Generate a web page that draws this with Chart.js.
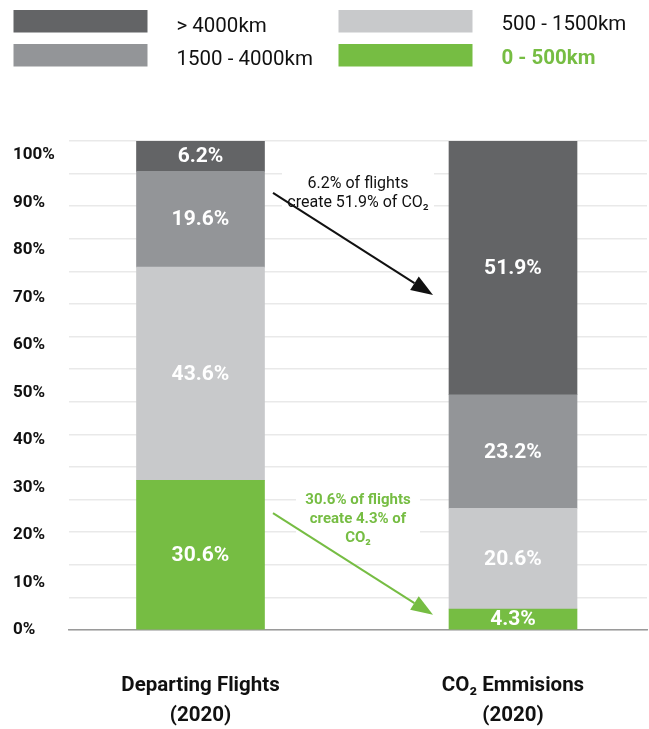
<!DOCTYPE html>
<html>
<head>
<meta charset="utf-8">
<script src="https://cdn.jsdelivr.net/npm/chart.js@4"></script>
<style>
  html, body { margin: 0; padding: 0; background: #fff; }
  #wrap { width: 649px; height: 729px; }
</style>
</head>
<body>
<div id="wrap"><canvas id="c" width="649" height="729"></canvas></div>
<script>
// ---- data ----
const categories = [['Departing Flights', '(2020)'], ['CO\u2082 Emmisions', '(2020)']];
const seriesLabels = ['0 - 500km', '500 - 1500km', '1500 - 4000km', '> 4000km'];
const share0to500 = [30.6, 4.3];
const share500to1500 = [43.6, 20.6];
const share1500to4000 = [19.6, 23.2];
const shareOver4000 = [6.2, 51.9];
const yTickStep = 10;

// annotations (in data coordinates)
const noteTexts = [
  ['6.2% of flights', 'create 51.9% of CO\u2082'],
  ['30.6% of flights', 'create 4.3% of', 'CO\u2082']
];

// ---- styles ----
const colors = ['#76BD43', '#C8C9CB', '#939598', '#636466'];
const FONT = 'Roboto, "Liberation Sans", sans-serif';
const LABEL_AXIS_MAX = 102.95;
const X_MIN = -0.4208, X_MAX = 1.4288;

const annotations = [
  { text: noteTexts[0], color: '#111', font: '16px', textX: 0.504, textY: 89.3,
    box: [152, 44], from: [0.232, 89.4], to: [0.744, 68.5] },
  { text: noteTexts[1], color: '#76BD43', font: 'bold 15px', textX: 0.504, textY: 22.7,
    box: [124, 57], from: [0.232, 23.9], to: [0.744, 3.1] }
];

const seriesValues = [share0to500, share500to1500, share1500to4000, shareOver4000];
const datasets = seriesValues.map((vals, k) => ({
  label: seriesLabels[k],
  data: vals.map((v, i) => ({ x: i, y: v })),
  backgroundColor: colors[k],
  borderWidth: 0,
  barThickness: 128,
  yAxisID: 'y'
}));

const legendOrder = [[3, 1], [2, 0]]; // rows x cols of dataset indexes

const decor = {
  id: 'decor',
  beforeDatasetsDraw(chart) {
    const ctx = chart.ctx;
    ctx.save();
    ctx.fillStyle = '#fff';
    const xs = chart.scales.x, ys = chart.scales.y;
    annotations.forEach(a => {
      const cx = xs.getPixelForValue(a.textX);
      const cy = ys.getPixelForValue(a.textY);
      ctx.fillRect(cx - a.box[0] / 2, cy - a.box[1] / 2, a.box[0], a.box[1]);
    });
    ctx.restore();
  },
  afterDatasetsDraw(chart) {
    const ctx = chart.ctx;
    const xs = chart.scales.x, ys = chart.scales.y;
    ctx.save();
    ctx.fillStyle = '#fff';
    ctx.font = 'bold 21px ' + FONT;
    ctx.textAlign = 'center';
    ctx.textBaseline = 'middle';
    chart.data.datasets.forEach((ds, di) => {
      const meta = chart.getDatasetMeta(di);
      meta.data.forEach((bar, i) => {
        const v = ds.data[i].y;
        ctx.fillText(v.toFixed(1) + '%', bar.x, (bar.y + bar.base) / 2 + 1);
      });
    });
    annotations.forEach(a => {
      const x1 = xs.getPixelForValue(a.from[0]), y1 = ys.getPixelForValue(a.from[1]);
      const x2 = xs.getPixelForValue(a.to[0]), y2 = ys.getPixelForValue(a.to[1]);
      const ang = Math.atan2(y2 - y1, x2 - x1);
      const L = 22, W = 8;
      const bx = x2 - L * Math.cos(ang), by = y2 - L * Math.sin(ang);
      ctx.strokeStyle = a.color;
      ctx.fillStyle = a.color;
      ctx.lineWidth = 2;
      ctx.beginPath();
      ctx.moveTo(x1, y1);
      ctx.lineTo(bx, by);
      ctx.stroke();
      ctx.beginPath();
      ctx.moveTo(x2, y2);
      ctx.lineTo(bx + W * Math.sin(ang), by - W * Math.cos(ang));
      ctx.lineTo(bx - W * Math.sin(ang), by + W * Math.cos(ang));
      ctx.closePath();
      ctx.fill();
      const cx = xs.getPixelForValue(a.textX), cy = ys.getPixelForValue(a.textY);
      ctx.font = a.font + ' ' + FONT;
      ctx.textAlign = 'center';
      ctx.textBaseline = 'middle';
      const lh = 19;
      const top = cy - (a.text.length - 1) * lh / 2;
      a.text.forEach((t, i) => ctx.fillText(t, cx, top + i * lh));
    });
    ctx.restore();
  },
  afterDraw(chart) {
    const ctx = chart.ctx;
    ctx.save();
    const colX = [13.5, 338.5], rowY = [10, 44];
    const baseY = [[32, 29.5], [65, 63.5]];
    const boxW = 134, boxH = 22.5, textGap = 163;
    legendOrder.forEach((row, r) => {
      row.forEach((di, c) => {
        const ds = chart.data.datasets[di];
        ctx.fillStyle = ds.backgroundColor;
        ctx.fillRect(colX[c], rowY[r], boxW, boxH);
        const isGreen = di === 0;
        ctx.fillStyle = isGreen ? ds.backgroundColor : '#111';
        ctx.font = (isGreen ? 'bold ' : '') + '20.5px ' + FONT;
        ctx.textAlign = 'left';
        ctx.textBaseline = 'alphabetic';
        ctx.fillText(ds.label, colX[c] + textGap, baseY[r][c]);
      });
    });
    ctx.restore();
  }
};

new Chart(document.getElementById('c'), {
  type: 'bar',
  data: { datasets },
  options: {
    responsive: false,
    animation: false,
    layout: { padding: { top: 141, left: 13, right: 2, bottom: 0 } },
    plugins: { legend: { display: false }, tooltip: { enabled: false } },
    scales: {
      x: {
        type: 'linear',
        offset: false,
        min: X_MIN, max: X_MAX,
        stacked: true,
        grid: { display: false, drawTicks: false },
        border: { display: true, color: '#9a9a9a', width: 1.5 },
        afterBuildTicks(s) { s.ticks = categories.map((_, i) => ({ value: i })); },
        afterFit(s) { s.height = 99; },
        ticks: {
          autoSkip: false, maxRotation: 0,
          callback: v => categories[v],
          font: { family: FONT, size: 20.5, weight: 'bold', lineHeight: 30 / 20.5 },
          color: '#111',
          padding: 41
        }
      },
      y: {
        type: 'linear',
        position: 'right',
        min: 0, max: 100,
        stacked: true,
        grid: { color: '#e9e9e9', lineWidth: 1.5, drawTicks: false },
        border: { display: false },
        ticks: { display: false, stepSize: 100 / 15 },
        afterFit(s) { s.width = 0; }
      },
      yl: {
        type: 'linear',
        position: 'left',
        min: 0, max: LABEL_AXIS_MAX,
        grid: { display: false, drawTicks: false },
        border: { display: false },
        afterFit(s) { s.width = 56; },
        ticks: {
          stepSize: yTickStep,
          includeBounds: false,
          crossAlign: 'far',
          padding: 0,
          color: '#111',
          font: { family: FONT, size: 17, weight: 'bold' },
          callback: v => (v % yTickStep === 0 ? v + '%' : '')
        }
      }
    }
  },
  plugins: [decor]
});
</script>
</body>
</html>
